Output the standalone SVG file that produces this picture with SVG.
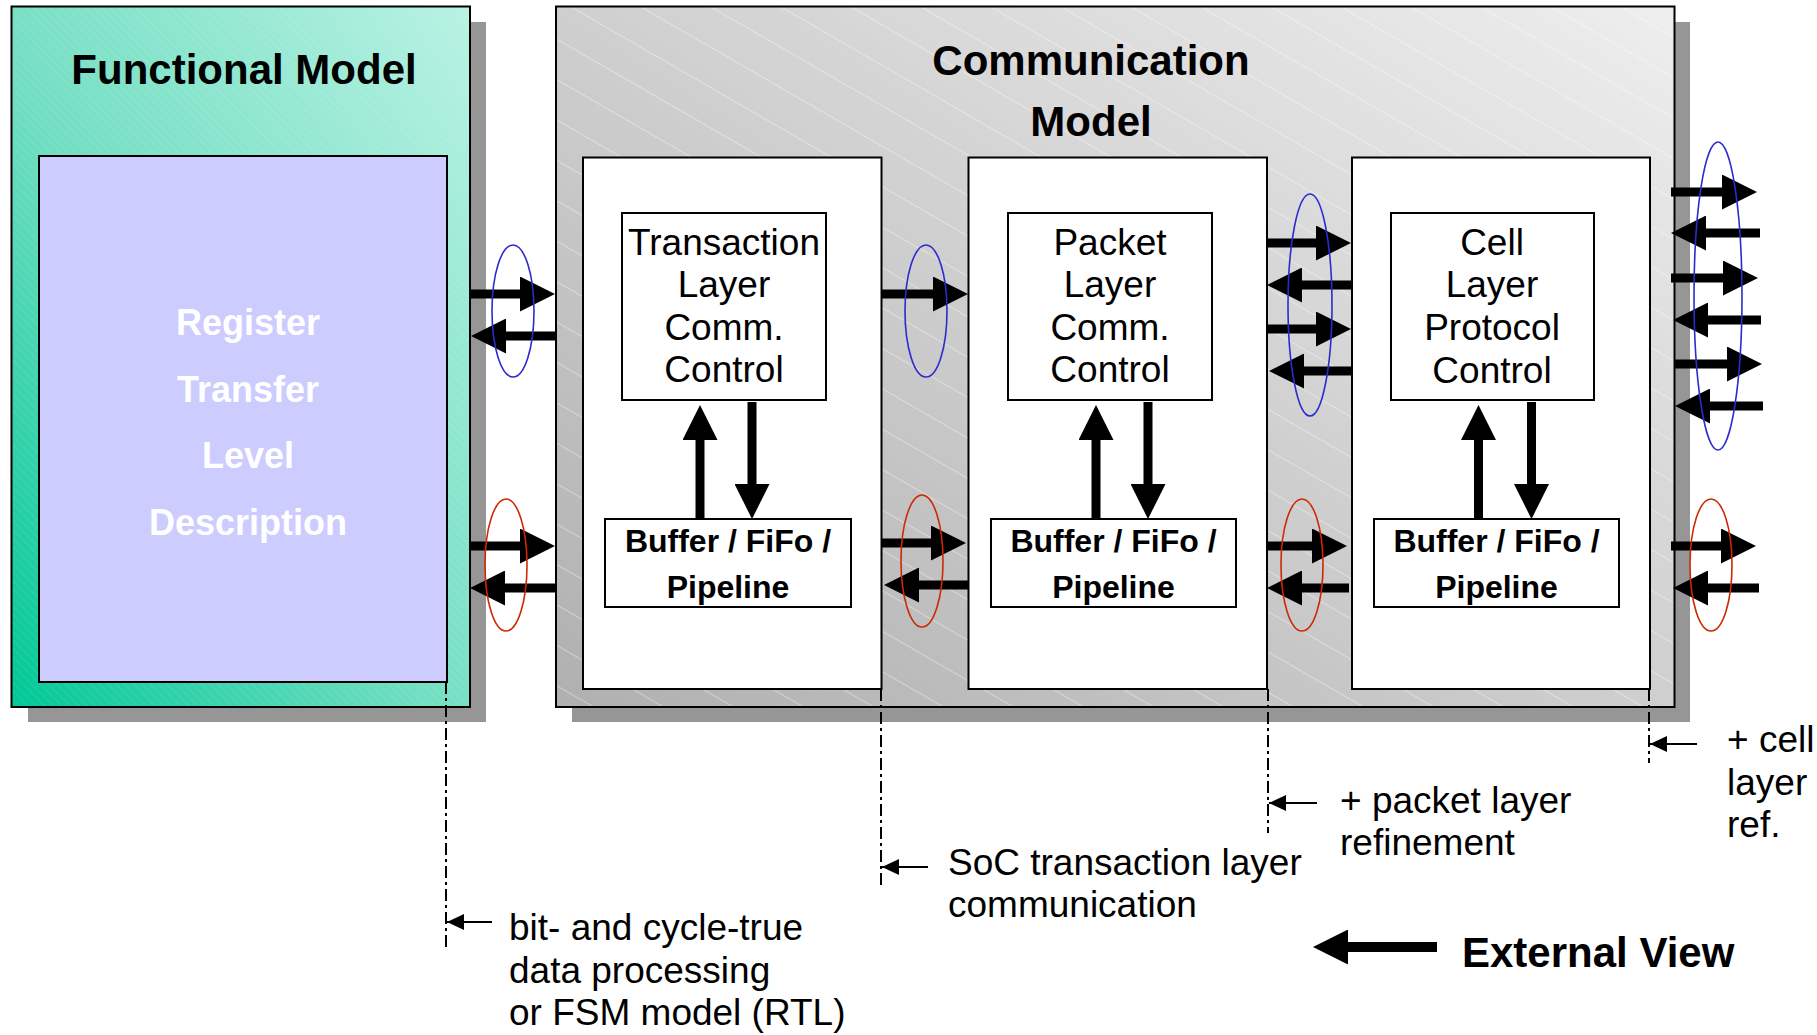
<svg xmlns="http://www.w3.org/2000/svg" width="1817" height="1035" viewBox="0 0 1817 1035">
  <defs>
    <linearGradient id="gFunc" x1="0" y1="1" x2="1" y2="0">
      <stop offset="0" stop-color="#00c896"/>
      <stop offset="0.45" stop-color="#72dec2"/>
      <stop offset="1" stop-color="#b8f2e3"/>
    </linearGradient>
    <linearGradient id="gComm" x1="0" y1="1" x2="1" y2="0">
      <stop offset="0" stop-color="#b0b0b0"/>
      <stop offset="1" stop-color="#eeeeee"/>
    </linearGradient>
    <pattern id="hatchF" patternUnits="userSpaceOnUse" width="6" height="6" patternTransform="rotate(-45)">
      <line x1="0" y1="0" x2="0" y2="6" stroke="#ffffff" stroke-opacity="0.22" stroke-width="0.8"/>
    </pattern>
    <pattern id="hatchC" patternUnits="userSpaceOnUse" width="40" height="35" patternTransform="rotate(30)">
      <line x1="0" y1="0.5" x2="40" y2="0.5" stroke="#ffffff" stroke-opacity="0.38" stroke-width="1"/>
    </pattern>
    <marker id="hd" markerUnits="userSpaceOnUse" markerWidth="35" markerHeight="35" viewBox="0 0 35 35" refX="5" refY="17.5" orient="auto">
      <path d="M0,0 L35,17.5 L0,35 z" fill="#000"/>
    </marker>
    <marker id="sm" markerUnits="userSpaceOnUse" markerWidth="17" markerHeight="16" viewBox="0 0 17 16" refX="17" refY="8" orient="auto">
      <path d="M0,0 L17,8 L0,16 z" fill="#000"/>
    </marker>
  </defs>
  <style>
    .shadow { fill: #969696; }
    .frame { stroke: #000; stroke-width: 2; }
    .box { fill: #ffffff; stroke: #000; stroke-width: 2; }
    .title { font-family: "Liberation Sans", Arial, sans-serif; font-weight: bold; font-size: 42px; fill: #000; text-anchor: middle; }
    .rtl { font-family: "Liberation Sans", Arial, sans-serif; font-weight: bold; font-size: 36px; fill: #ffffff; text-anchor: middle; }
    .lbl { font-family: "Liberation Sans", Arial, sans-serif; font-size: 37px; fill: #000; text-anchor: middle; }
    .buf { font-family: "Liberation Sans", Arial, sans-serif; font-weight: bold; font-size: 32px; fill: #000; text-anchor: middle; }
    .note { font-family: "Liberation Sans", Arial, sans-serif; font-size: 37px; fill: #000; }
    .big { stroke: #000; stroke-width: 9; fill: none; marker-end: url(#hd); }
    .bus-b { fill: none; stroke: #2b2bd0; stroke-width: 1.6; }
    .bus-r { fill: none; stroke: #cc2a00; stroke-width: 1.6; }
    .guide { stroke: #000; stroke-width: 2; stroke-dasharray: 12 4 3 4; fill: none; }
    .ptr { stroke: #000; stroke-width: 2; fill: none; marker-end: url(#sm); }
  </style>

  <!-- Functional model frame with RTL core -->
  <g id="functional-model">
    <rect class="shadow" x="28" y="22" width="458" height="700"/>
    <rect x="11.5" y="6.5" width="458.5" height="700.5" fill="url(#gFunc)"/>
    <rect x="11.5" y="6.5" width="458.5" height="700.5" fill="url(#hatchF)" class="frame"/>
    <text class="title" x="244" y="84">Functional Model</text>
    <rect x="39" y="156" width="408" height="526" fill="#ccccff" stroke="#000" stroke-width="2"/>
    <text class="rtl" x="248" y="335">Register</text>
    <text class="rtl" x="248" y="402">Transfer</text>
    <text class="rtl" x="248" y="468">Level</text>
    <text class="rtl" x="248" y="535">Description</text>
  </g>

  <!-- Communication model frame -->
  <g id="communication-model">
    <rect class="shadow" x="572" y="22" width="1118" height="700"/>
    <rect x="556" y="6.5" width="1118.5" height="700.5" fill="url(#gComm)"/>
    <rect x="556" y="6.5" width="1118.5" height="700.5" fill="url(#hatchC)" class="frame"/>
    <text class="title" x="1091" y="75">Communication</text>
    <text class="title" x="1091" y="136">Model</text>
  </g>

  <!-- Transaction layer column -->
  <g id="transaction-layer">
    <rect class="box" x="583" y="157.5" width="298.5" height="531.5"/>
    <rect class="box" x="622" y="213" width="204" height="187" stroke-width="1.8"/>
    <text class="lbl" x="724" y="255">Transaction</text>
    <text class="lbl" x="724" y="297">Layer</text>
    <text class="lbl" x="724" y="340">Comm.</text>
    <text class="lbl" x="724" y="382">Control</text>
    <rect class="box" x="605" y="519" width="246" height="88" stroke-width="1.8"/>
    <text class="buf" x="728" y="552">Buffer / FiFo /</text>
    <text class="buf" x="728" y="598">Pipeline</text>
  </g>

  <!-- Packet layer column -->
  <g id="packet-layer">
    <rect class="box" x="968.5" y="157.5" width="298.5" height="531.5"/>
    <rect class="box" x="1008" y="213" width="204" height="187" stroke-width="1.8"/>
    <text class="lbl" x="1110" y="255">Packet</text>
    <text class="lbl" x="1110" y="297">Layer</text>
    <text class="lbl" x="1110" y="340">Comm.</text>
    <text class="lbl" x="1110" y="382">Control</text>
    <rect class="box" x="991" y="519" width="245" height="88" stroke-width="1.8"/>
    <text class="buf" x="1113.5" y="552">Buffer / FiFo /</text>
    <text class="buf" x="1113.5" y="598">Pipeline</text>
  </g>

  <!-- Cell layer column -->
  <g id="cell-layer">
    <rect class="box" x="1352" y="157.5" width="298" height="531.5"/>
    <rect class="box" x="1391" y="213" width="203" height="187" stroke-width="1.8"/>
    <text class="lbl" x="1492" y="255">Cell</text>
    <text class="lbl" x="1492" y="297">Layer</text>
    <text class="lbl" x="1492" y="340">Protocol</text>
    <text class="lbl" x="1492" y="383">Control</text>
    <rect class="box" x="1374" y="519" width="245" height="88" stroke-width="1.8"/>
    <text class="buf" x="1496.5" y="552">Buffer / FiFo /</text>
    <text class="buf" x="1496.5" y="598">Pipeline</text>
  </g>

  <!-- Signal arrows between layers -->
  <g id="connectors">
    <!-- functional model <-> transaction layer -->
    <line class="big" x1="470" y1="294" x2="525" y2="294"/>
    <line class="big" x1="556" y1="336" x2="501" y2="336"/>
    <line class="big" x1="470" y1="546" x2="525" y2="546"/>
    <line class="big" x1="556" y1="588" x2="500" y2="588"/>
    <!-- transaction <-> packet -->
    <line class="big" x1="882" y1="294" x2="938" y2="294"/>
    <line class="big" x1="882" y1="543" x2="936" y2="543"/>
    <line class="big" x1="968" y1="585" x2="914" y2="585"/>
    <!-- packet <-> cell -->
    <line class="big" x1="1267" y1="243" x2="1321" y2="243"/>
    <line class="big" x1="1352" y1="285" x2="1297" y2="285"/>
    <line class="big" x1="1267" y1="329" x2="1321" y2="329"/>
    <line class="big" x1="1352" y1="371" x2="1299" y2="371"/>
    <line class="big" x1="1267" y1="546" x2="1317" y2="546"/>
    <line class="big" x1="1349" y1="588" x2="1297" y2="588"/>
    <!-- cell layer external pins -->
    <line class="big" x1="1671" y1="192" x2="1727" y2="192"/>
    <line class="big" x1="1760" y1="233" x2="1701" y2="233"/>
    <line class="big" x1="1671" y1="278" x2="1728" y2="278"/>
    <line class="big" x1="1761" y1="320" x2="1703" y2="320"/>
    <line class="big" x1="1675" y1="364" x2="1732" y2="364"/>
    <line class="big" x1="1763" y1="406" x2="1705" y2="406"/>
    <line class="big" x1="1671" y1="546" x2="1726" y2="546"/>
    <line class="big" x1="1759" y1="588" x2="1703" y2="588"/>
    <!-- control <-> buffer inside each layer -->
    <line class="big" x1="700" y1="519" x2="700" y2="435"/>
    <line class="big" x1="752" y1="402" x2="752" y2="489"/>
    <line class="big" x1="1096" y1="519" x2="1096" y2="435"/>
    <line class="big" x1="1148" y1="402" x2="1148" y2="489"/>
    <line class="big" x1="1478.5" y1="519" x2="1478.5" y2="435"/>
    <line class="big" x1="1531.5" y1="402" x2="1531.5" y2="489"/>
    <!-- bus groupings -->
    <ellipse class="bus-b" cx="513" cy="311" rx="21" ry="66"/>
    <ellipse class="bus-r" cx="506" cy="565" rx="21" ry="66"/>
    <ellipse class="bus-b" cx="926" cy="311" rx="21" ry="66"/>
    <ellipse class="bus-r" cx="922" cy="561" rx="21" ry="66"/>
    <ellipse class="bus-b" cx="1310" cy="305" rx="22" ry="111"/>
    <ellipse class="bus-r" cx="1302" cy="565" rx="21" ry="66"/>
    <ellipse class="bus-b" cx="1718" cy="296" rx="24" ry="154"/>
    <ellipse class="bus-r" cx="1711" cy="565" rx="21" ry="66"/>
  </g>

  <!-- Abstraction boundaries and notes -->
  <g id="annotations">
    <line class="guide" x1="446" y1="682" x2="446" y2="947"/>
    <line class="ptr" x1="492" y1="922" x2="447" y2="922"/>
    <text class="note" x="509" y="940">bit- and cycle-true</text>
    <text class="note" x="509" y="983">data processing</text>
    <text class="note" x="509" y="1025">or FSM model (RTL)</text>

    <line class="guide" x1="881" y1="689" x2="881" y2="885"/>
    <line class="ptr" x1="928" y1="867" x2="882" y2="867"/>
    <text class="note" x="948" y="875">SoC transaction layer</text>
    <text class="note" x="948" y="917">communication</text>

    <line class="guide" x1="1268" y1="689" x2="1268" y2="833"/>
    <line class="ptr" x1="1317" y1="803" x2="1269" y2="803"/>
    <text class="note" x="1340" y="813">+ packet layer</text>
    <text class="note" x="1340" y="855">refinement</text>

    <line class="guide" x1="1649" y1="689" x2="1649" y2="763"/>
    <line class="ptr" x1="1697" y1="744" x2="1650" y2="744"/>
    <text class="note" x="1727" y="752">+ cell</text>
    <text class="note" x="1727" y="795">layer</text>
    <text class="note" x="1727" y="837">ref.</text>
  </g>

  <!-- External view legend -->
  <g id="external-view">
    <line stroke="#000" stroke-width="10" x1="1437" y1="947" x2="1343" y2="947" marker-end="url(#hd)"/>
    <text class="title" x="1462" y="967" style="text-anchor:start">External View</text>
  </g>
</svg>
